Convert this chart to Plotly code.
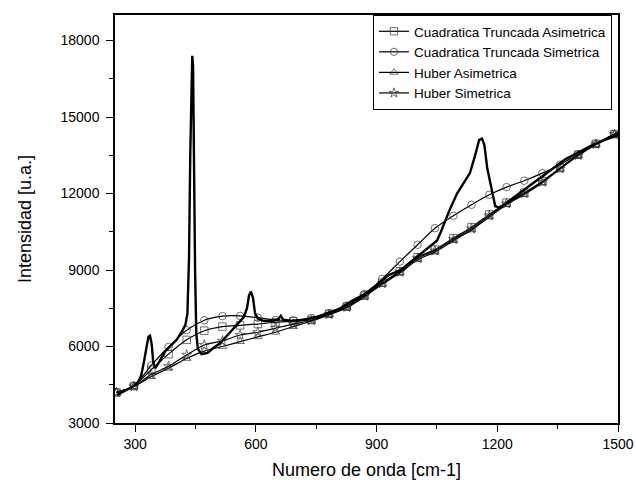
import plotly.graph_objects as go

# Raw spectrum (no markers)
raw_x = [255, 275, 295, 305, 315, 322, 328, 333, 337, 341, 345, 350, 360, 374, 390, 403, 415, 425,
         430, 434, 437, 440, 442, 444, 446, 449, 452, 456, 465, 480, 495, 511, 530, 552, 570, 578,
         583, 588, 593, 598, 605, 620, 640, 655, 662, 668, 690, 720, 750, 780, 810, 840, 870, 900,
         930, 960, 1000, 1030, 1050, 1060, 1080, 1100, 1120, 1132, 1145, 1155, 1162, 1168, 1175,
         1185, 1195, 1205, 1220, 1250, 1280, 1310, 1340, 1370, 1400, 1430, 1460, 1500]
raw_y = [4100, 4280, 4430, 4560, 4850, 5400, 6000, 6380, 6420, 6100, 5400, 5150, 5400, 5800, 6050,
         6260, 6550, 6850, 7300, 9500, 13500, 17000, 17400, 17000, 13500, 9000, 6500, 5900, 5700,
         5750, 5950, 6130, 6450, 6850, 7150, 7500, 8000, 8150, 7900, 7300, 7100, 7000, 7000, 7050,
         7200, 7050, 7000, 7050, 7150, 7320, 7500, 7800, 8050, 8400, 8800, 9000, 9500, 9900, 10150,
         10500, 11300, 12000, 12500, 12800, 13500, 14100, 14150, 13900, 13000, 12200, 11500, 11450,
         11600, 11950, 12300, 12650, 13000, 13350, 13600, 13850, 14050, 14300]

# Fitted baselines (marker positions)
fit_x = [254, 297, 340, 383, 428, 472, 517, 561, 605, 649, 693, 738, 782, 826, 870, 914, 958,
         1002, 1045, 1091, 1136, 1180, 1223, 1267, 1312, 1356, 1401, 1445, 1491, 1500]
cta_y = [4200, 4450, 5090, 5700, 6260, 6620, 6780, 6830, 6880, 6950, 6990, 7040, 7280, 7560, 8000,
         8500, 8950, 9500, 9800, 10250, 10680, 11180, 11640, 12030, 12480, 13000, 13520, 13950,
         14330, 14400]
cts_y = [4200, 4450, 5260, 5980, 6640, 7030, 7190, 7200, 7130, 7040, 7030, 7120, 7310, 7600, 8060,
         8650, 9330, 9990, 10640, 11130, 11560, 11950, 12250, 12500, 12800, 13130, 13540, 13940,
         14330, 14420]
ha_y = [4200, 4430, 4820, 5150, 5530, 5820, 6000, 6190, 6380, 6560, 6780, 7000, 7240, 7520, 7950,
        8440, 8880, 9400, 9700, 10150, 10570, 11080, 11560, 11960, 12420, 12960, 13480, 13920,
        14310, 14380]
hs_y = [4200, 4430, 4900, 5220, 5670, 6060, 6220, 6450, 6560, 6720, 6880, 7020, 7260, 7540, 7980,
        8470, 8920, 9460, 9760, 10200, 10620, 11130, 11600, 12000, 12450, 12980, 13500, 13930,
        14320, 14400]

series = [
    ("Cuadratica Truncada Asimetrica", cta_y, "square-open"),
    ("Cuadratica Truncada Simetrica", cts_y, "circle-open"),
    ("Huber Asimetrica", ha_y, "triangle-up-open"),
    ("Huber Simetrica", hs_y, "star-open"),
]

FONT = "Liberation Sans, Arial"

fig = go.Figure()
sizes = [7.5] * (len(fit_x) - 1) + [0]
for name, ys, sym in series:
    fig.add_trace(go.Scatter(
        x=fit_x, y=ys, name=name, mode="lines+markers",
        line=dict(color="black", width=1.2, shape="spline", smoothing=0.8),
        marker=dict(symbol=sym, size=sizes, color="#333333", line=dict(width=1, color="#333333")),
    ))

fig.add_trace(go.Scatter(
    x=raw_x, y=raw_y, mode="lines", showlegend=False,
    line=dict(color="black", width=2.4),
))

axis_common = dict(
    showline=True, linecolor="black", linewidth=1.5, mirror=True,
    ticks="outside", ticklen=7, tickwidth=1.2, tickcolor="black",
    showgrid=False, zeroline=False, tickformat="d", automargin=False,
    tickfont=dict(family=FONT, size=14, color="black"),
)

fig.update_xaxes(
    range=[250, 1500], tick0=300, dtick=300,
    minor=dict(ticks="outside", ticklen=4, tick0=150, dtick=150, tickcolor="black", tickwidth=1.2),
    title=dict(text="Numero de onda [cm-1]", font=dict(family=FONT, size=18, color="black"), standoff=13),
    **axis_common,
)
fig.update_yaxes(
    range=[3000, 19000], tick0=3000, dtick=3000, ticklabelstandoff=4,
    minor=dict(ticks="outside", ticklen=4, tick0=1500, dtick=1500, tickcolor="black", tickwidth=1.2),
    title=dict(text="Intensidad [u.a.]", font=dict(family=FONT, size=18, color="black"), standoff=24),
    **axis_common,
)

fig.update_layout(
    width=636, height=485,
    margin=dict(l=115, r=18, t=15, b=62),
    paper_bgcolor="white", plot_bgcolor="white",
    legend=dict(
        x=0.988, y=1.0, xanchor="right", yanchor="top",
        bordercolor="black", borderwidth=1, bgcolor="white",
        font=dict(family=FONT, size=13.5, color="black"),
        tracegroupgap=0, itemwidth=30,
    ),
)

# Remove the default page margin so the figure fills the window exactly.
fig.write_html(
    "out.html",
    config={"displayModeBar": False},
    post_script="document.body.style.margin='0';document.body.style.overflow='hidden';",
)
